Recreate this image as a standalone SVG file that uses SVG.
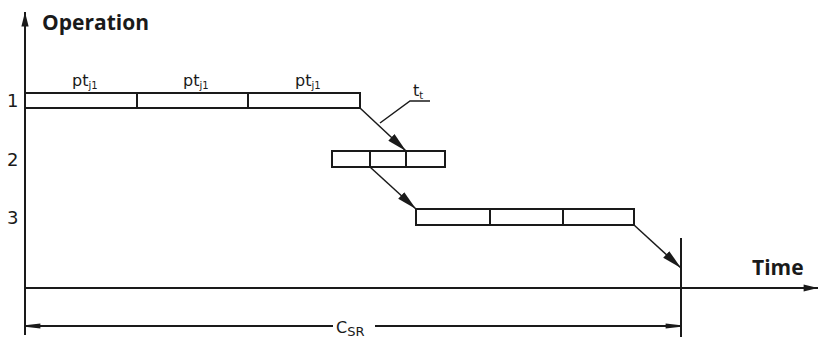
<svg xmlns="http://www.w3.org/2000/svg" width="819" height="340" viewBox="0 0 819 340">
<defs>
<style>
.ln{stroke:#1a1a1a;stroke-width:2;fill:none}
.bar{stroke:#1a1a1a;stroke-width:2;fill:#fff}
.lbl{font-family:"DejaVu Sans",sans-serif;font-size:16px;fill:#1a1a1a}
.num{font-family:"DejaVu Sans",sans-serif;font-size:18px;fill:#1a1a1a}
.ttl{font-family:"Open Sans","DejaVu Sans",sans-serif;font-weight:bold;font-size:21px;fill:#1a1a1a}
</style>
<marker id="ahs" viewBox="0 0 16 10" refX="16" refY="5" markerWidth="16" markerHeight="9" markerUnits="userSpaceOnUse" orient="auto"><path d="M0,1 L16,5 L0,9 Z" fill="#1a1a1a"/></marker>
<marker id="ahc" viewBox="0 0 20 10" refX="20" refY="5" markerWidth="20" markerHeight="10" markerUnits="userSpaceOnUse" orient="auto"><path d="M0,0.5 L20,5 L0,9.5 Z" fill="#1a1a1a"/></marker>
<marker id="ahd" viewBox="0 0 22 10" refX="22" refY="5" markerWidth="22" markerHeight="7" markerUnits="userSpaceOnUse" orient="auto-start-reverse"><path d="M0,1.5 L22,4 L22,6 L0,8.5 Z" fill="#1a1a1a"/></marker>
</defs>

<g id="axes">
<line class="ln" x1="25" y1="335" x2="25" y2="12" marker-end="url(#ahs)"/>
<text class="ttl" x="42" y="30">Operation</text>
<line class="ln" x1="25" y1="288" x2="818" y2="288" marker-end="url(#ahs)"/>
<text class="ttl" x="752" y="275">Time</text>
<line class="ln" x1="681" y1="238" x2="681" y2="337"/>
<text class="num" x="7" y="107">1</text>
<text class="num" x="7" y="166">2</text>
<text class="num" x="7" y="224">3</text>
</g>

<g id="op1">
<rect class="bar" x="25" y="93" width="335" height="15"/>
<line class="ln" x1="137" y1="93" x2="137" y2="108"/>
<line class="ln" x1="248" y1="93" x2="248" y2="108"/>
<text class="lbl" x="72" y="86">pt<tspan font-size="10" dy="3">j1</tspan></text>
<text class="lbl" x="183" y="86">pt<tspan font-size="10" dy="3">j1</tspan></text>
<text class="lbl" x="295" y="86">pt<tspan font-size="10" dy="3">j1</tspan></text>
</g>

<g id="op2">
<rect class="bar" x="332" y="151" width="113" height="16"/>
<line class="ln" x1="370" y1="151" x2="370" y2="167"/>
<line class="ln" x1="406" y1="151" x2="406" y2="167"/>
</g>

<g id="op3">
<rect class="bar" x="416" y="209" width="218" height="16"/>
<line class="ln" x1="490" y1="209" x2="490" y2="225"/>
<line class="ln" x1="563" y1="209" x2="563" y2="225"/>
</g>

<g id="tt-label">
<polyline class="ln" style="stroke-width:1.5" points="380,123 410,101 430,101"/>
<text class="lbl" x="413" y="96">t<tspan font-size="10" dy="3">t</tspan></text>
</g>

<g id="connectors">
<line class="ln" style="stroke-width:1.5" x1="360" y1="108" x2="406" y2="151" marker-end="url(#ahc)"/>
<line class="ln" style="stroke-width:1.5" x1="370" y1="167" x2="416" y2="209" marker-end="url(#ahc)"/>
<line class="ln" style="stroke-width:1.5" x1="634" y1="225" x2="681" y2="268" marker-end="url(#ahc)"/>
</g>

<g id="dimension">
<line class="ln" x1="25" y1="326" x2="333" y2="326" marker-start="url(#ahd)"/>
<line class="ln" x1="375" y1="326" x2="681" y2="326" marker-end="url(#ahd)"/>
<text class="lbl" x="336" y="333" font-size="18">C<tspan font-size="13" dy="3">SR</tspan></text>
</g>
</svg>
